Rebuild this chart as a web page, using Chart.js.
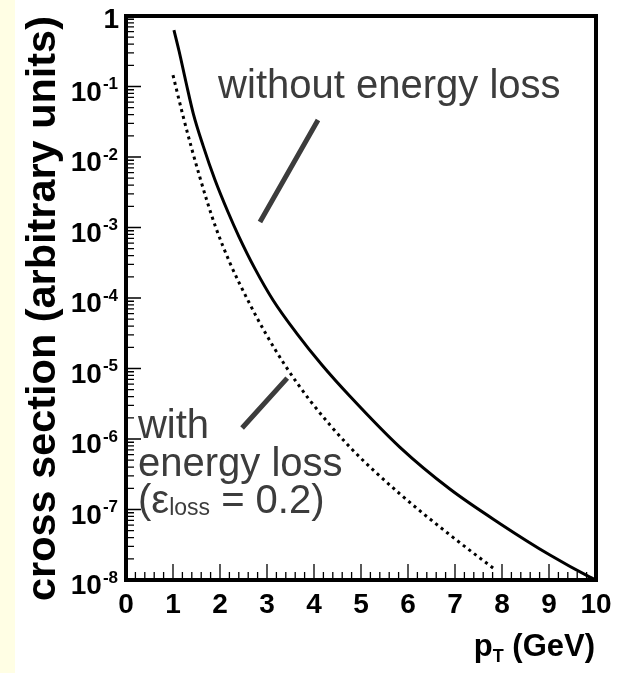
<!DOCTYPE html>
<html><head><meta charset="utf-8">
<script src="https://cdn.jsdelivr.net/npm/chart.js@4/dist/chart.umd.min.js"></script>
<style>
html,body{margin:0;padding:0;background:#fff;}
#wrap{position:relative;width:623px;height:673px;background:linear-gradient(to right,#FFFEE4 0,#FFFEE4 15px,#ffffff 15px);}
canvas{display:block;}
</style></head><body>
<div id="wrap"><canvas id="c" width="623" height="673"></canvas></div>
<script>
// p_T (GeV) and cross section, curve without energy loss
const ptSolid = [1.02,1.13,1.28,1.43,1.64,1.89,2.17,2.40,2.74,3.13,3.64,4.17,4.77,5.83,6.89,7.96,9.02,9.87,10.0];
const xsSolid = [6.3e-1,3.16e-1,1.12e-1,4.17e-2,1.45e-2,4.8e-3,1.66e-3,7.5e-4,2.63e-4,9.3e-5,3.1e-5,1.12e-5,4.0e-6,7.6e-7,1.95e-7,6.3e-8,2.26e-8,1.1e-8,1.0e-8];
// curve with energy loss (eps_loss = 0.2)
const ptLoss = [1.0,1.21,1.40,1.57,1.74,1.91,2.21,2.60,2.96,3.38,3.91,4.77,5.83,6.89,7.85];
const xsLoss = [1.45e-1,3.9e-2,1.3e-2,5.2e-3,2.19e-3,1.0e-3,3.16e-4,9.1e-5,3.24e-5,1.12e-5,3.55e-6,7.6e-7,1.66e-7,4.37e-8,1.41e-8];
// axis ticks
const yTickValues = [1,1e-1,1e-2,1e-3,1e-4,1e-5,1e-6,1e-7,1e-8];
const yTickBases  = ["1","10","10","10","10","10","10","10","10"];
const yTickExps   = ["","-1","-2","-3","-4","-5","-6","-7","-8"];
const xTickLabels = ["0","1","2","3","4","5","6","7","8","9","10"];
const yTitle = "cross section (arbitrary units)";
// annotations: anchor in data units
const noteWithout = {text:"without energy loss", pt:1.96, xs:6.87e-2};
const ptrWithout = {pt1:4.085, xs1:3.35e-2, pt2:2.85, xs2:1.2e-3};
const noteWith = {lines:["with","energy loss"], pt:0.255, xs:1.03e-6};
const ptrWith = {pt1:3.43, xs1:7.3e-6, pt2:2.47, xs2:1.43e-6};

const FONT = '"Liberation Sans", Arial, Helvetica, sans-serif';

const deco = {
  id:'deco',
  afterDraw(chart){
    const {ctx, chartArea:a, scales:{x,y}} = chart;
    ctx.save();
    // tick marks
    ctx.strokeStyle='#000'; ctx.lineWidth=1.3; ctx.lineCap='butt';
    ctx.beginPath();
    for (let i=0;i<yTickValues.length;i++){
      const v=yTickValues[i];
      const py=y.getPixelForValue(v);
      ctx.moveTo(a.left,py); ctx.lineTo(a.left+15,py);
      if (i>0){
        for (let m=2;m<=9;m++){
          const pm=y.getPixelForValue(v*m);
          ctx.moveTo(a.left,pm); ctx.lineTo(a.left+8,pm);
        }
      }
    }
    for (let k=0;k<=50;k++){
      const px=x.getPixelForValue(k/5);
      const len=(k%5===0)?16:8;
      ctx.moveTo(px,a.bottom); ctx.lineTo(px,a.bottom-len);
    }
    ctx.stroke();
    // frame
    ctx.lineWidth=4;
    ctx.strokeRect(a.left,a.top,a.right-a.left,a.bottom-a.top);

    // y tick labels
    ctx.fillStyle='#000';
    ctx.textBaseline='alphabetic';
    for (let i=0;i<yTickValues.length;i++){
      const py=y.getPixelForValue(yTickValues[i]);
      const right=a.left-8;
      ctx.textAlign='right';
      if (!yTickExps[i]){
        ctx.font='bold 28px '+FONT;
        ctx.fillText(yTickBases[i], right+1, py+12);
      } else {
        ctx.font='bold 17px '+FONT;
        const w=ctx.measureText(yTickExps[i]).width;
        ctx.fillText(yTickExps[i], right, py+2.5);
        ctx.font='bold 28px '+FONT;
        ctx.fillText(yTickBases[i], right-w-1, py+14);
      }
    }
    // x tick labels
    ctx.font='bold 28px '+FONT; ctx.textAlign='center';
    for (let i=0;i<xTickLabels.length;i++){
      ctx.fillText(xTickLabels[i], x.getPixelForValue(i), a.bottom+33);
    }
    // x title
    ctx.textAlign='left';
    ctx.font='bold 31px '+FONT; const wp=ctx.measureText('p').width;
    const wr=ctx.measureText(' (GeV)').width;
    ctx.font='bold 18px '+FONT; const wt=ctx.measureText('T').width;
    let sx=a.right-(wp+wt+wr)-1; const by=a.bottom+76;
    ctx.font='bold 31px '+FONT; ctx.fillText('p',sx,by); sx+=wp;
    ctx.font='bold 18px '+FONT; ctx.fillText('T',sx,by+6); sx+=wt;
    ctx.font='bold 31px '+FONT; ctx.fillText(' (GeV)',sx,by);
    // y title
    ctx.font='bold 40px '+FONT;
    const tw=ctx.measureText(yTitle).width;
    const fs=40*585/tw;
    ctx.font='bold '+fs.toFixed(2)+'px '+FONT;
    ctx.save();
    ctx.translate(55,(a.top+600)/2+0.5);
    ctx.rotate(-Math.PI/2);
    ctx.textAlign='center';
    ctx.fillText(yTitle,0,0);
    ctx.restore();

    // annotations
    const grey='#3c3c3c';
    ctx.fillStyle=grey; ctx.strokeStyle=grey; ctx.textAlign='left';
    ctx.font='40px '+FONT;
    ctx.fillText(noteWithout.text, x.getPixelForValue(noteWithout.pt), y.getPixelForValue(noteWithout.xs));
    const wx=x.getPixelForValue(noteWith.pt), wy=y.getPixelForValue(noteWith.xs);
    ctx.fillText(noteWith.lines[0], wx, wy);
    ctx.fillText(noteWith.lines[1], wx, wy+37.5);
    let tx=wx; const ty=wy+75;
    ctx.fillText('(\u03B5', tx, ty); tx+=ctx.measureText('(\u03B5').width;
    ctx.font='23px '+FONT; ctx.fillText('loss', tx, ty+2); tx+=ctx.measureText('loss').width;
    ctx.font='40px '+FONT; ctx.fillText(' = 0.2)', tx, ty);
    ctx.lineWidth=5; ctx.lineCap='butt';
    ctx.beginPath();
    ctx.moveTo(x.getPixelForValue(ptrWithout.pt1), y.getPixelForValue(ptrWithout.xs1));
    ctx.lineTo(x.getPixelForValue(ptrWithout.pt2), y.getPixelForValue(ptrWithout.xs2));
    ctx.moveTo(x.getPixelForValue(ptrWith.pt1), y.getPixelForValue(ptrWith.xs1));
    ctx.lineTo(x.getPixelForValue(ptrWith.pt2), y.getPixelForValue(ptrWith.xs2));
    ctx.stroke();
    ctx.restore();
  }
};

new Chart(document.getElementById('c'), {
  type:'scatter',
  data:{datasets:[
    {label:'without energy loss', data:ptSolid.map((p,i)=>({x:p,y:xsSolid[i]})),
     showLine:true, borderColor:'#000', borderWidth:3, pointRadius:0, cubicInterpolationMode:'monotone', fill:false},
    {label:'with energy loss', data:ptLoss.map((p,i)=>({x:p,y:xsLoss[i]})),
     showLine:true, borderColor:'#000', borderWidth:3, borderDash:[3,4], pointRadius:0, cubicInterpolationMode:'monotone', fill:false}
  ]},
  options:{
    responsive:false, animation:false, devicePixelRatio:1,
    layout:{padding:{left:126,right:27,top:16,bottom:93}},
    plugins:{legend:{display:false}, tooltip:{enabled:false}},
    scales:{
      x:{type:'linear',min:0,max:10,grid:{display:false,drawTicks:false},border:{display:false},ticks:{display:false},title:{display:false},
         afterFit(s){s.height=0;}},
      y:{type:'logarithmic',min:1e-8,max:1,grid:{display:false,drawTicks:false},border:{display:false},ticks:{display:false},title:{display:false},
         afterFit(s){s.width=0;}}
    }
  },
  plugins:[deco]
});
</script>
</body></html>
